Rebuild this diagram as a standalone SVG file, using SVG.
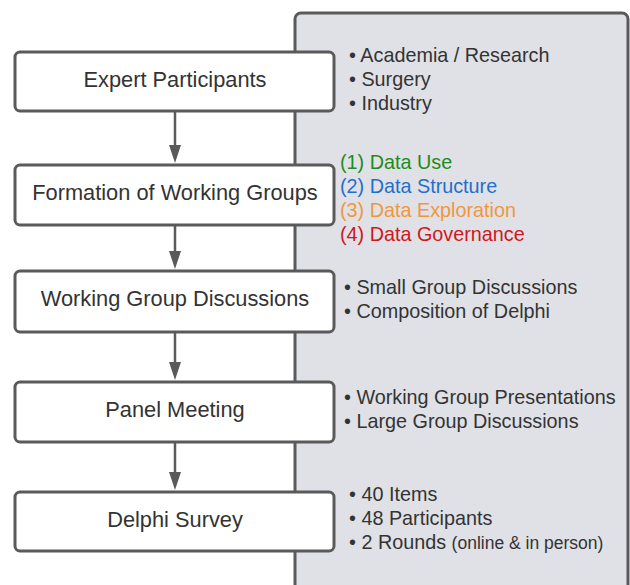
<svg xmlns="http://www.w3.org/2000/svg" width="630" height="585" viewBox="0 0 630 585">
<defs>
<style>
.box{fill:#fff;stroke:#5a5a5a;stroke-width:3}
.lbl{font-family:"Liberation Sans",Arial,sans-serif;font-size:21.8px;fill:#333;text-anchor:middle}
.txt{font-family:"Liberation Sans",Arial,sans-serif;font-size:19.8px;fill:#333}
.edge{stroke:#5a5a5a;stroke-width:2.5;fill:none}
</style>
</defs>
<rect width="630" height="585" fill="#fff"/>
<g id="panel">
<rect x="295" y="13" width="333" height="600" rx="6" fill="#dfe1e6" stroke="#5a5a5a" stroke-width="3"/>
</g>
<g id="connectors">
<path class="edge" d="M175,112 V146"/>
<path d="M169,145 L181,145 L175,163 Z" fill="#5a5a5a"/>
<path class="edge" d="M175,225 V252"/>
<path d="M169,251 L181,251 L175,269 Z" fill="#5a5a5a"/>
<path class="edge" d="M175,332 V362"/>
<path d="M169,362 L181,362 L175,380 Z" fill="#5a5a5a"/>
<path class="edge" d="M175,442 V472"/>
<path d="M169,472 L181,472 L175,490 Z" fill="#5a5a5a"/>
</g>
<g id="expert">
<rect class="box" x="15" y="52" width="319" height="59" rx="5"/>
<text class="lbl" x="175" y="87">Expert Participants</text>
</g>
<g id="formation">
<rect class="box" x="15" y="165" width="319" height="60" rx="5"/>
<text class="lbl" x="175" y="200">Formation of Working Groups</text>
</g>
<g id="wgd">
<rect class="box" x="15" y="271" width="319" height="61" rx="5"/>
<text class="lbl" x="175" y="306">Working Group Discussions</text>
</g>
<g id="panelmeeting">
<rect class="box" x="15" y="382" width="319" height="60" rx="5"/>
<text class="lbl" x="175" y="417">Panel Meeting</text>
</g>
<g id="delphi">
<rect class="box" x="15" y="492" width="319" height="59" rx="5"/>
<text class="lbl" x="175" y="527">Delphi Survey</text>
</g>
<g id="notes-expert">
<text class="txt" x="349" y="62">• Academia / Research</text>
<text class="txt" x="349" y="86">• Surgery</text>
<text class="txt" x="349" y="110">• Industry</text>
</g>
<g id="notes-formation">
<text class="txt" x="340" y="169" style="fill:#1c8c1c">(1) Data Use</text>
<text class="txt" x="340" y="193" style="fill:#1f6fd0">(2) Data Structure</text>
<text class="txt" x="340" y="217" style="fill:#f0973e">(3) Data Exploration</text>
<text class="txt" x="340" y="241" style="fill:#d0171d">(4) Data Governance</text>
</g>
<g id="notes-wgd">
<text class="txt" x="344" y="294">• Small Group Discussions</text>
<text class="txt" x="344" y="318">• Composition of Delphi</text>
</g>
<g id="notes-panel">
<text class="txt" x="344" y="404">• Working Group Presentations</text>
<text class="txt" x="344" y="428">• Large Group Discussions</text>
</g>
<g id="notes-delphi">
<text class="txt" x="349" y="501">• 40 Items</text>
<text class="txt" x="349" y="525">• 48 Participants</text>
<text class="txt" x="349" y="549">• 2 Rounds <tspan style="font-size:17.5px">(online &amp; in person)</tspan></text>
</g>
</svg>
